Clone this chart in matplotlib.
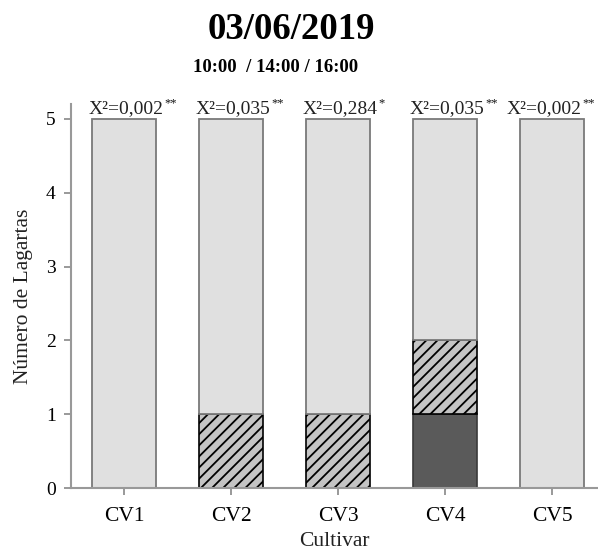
import matplotlib
matplotlib.use("Agg")
import matplotlib.pyplot as plt
import numpy as np

plt.rcParams['font.family'] = ['Liberation Serif', 'DejaVu Serif']
plt.rcParams['hatch.linewidth'] = 1.3

# Data
cultivars = ["CV1", "CV2", "CV3", "CV4", "CV5"]
n_dark = [0, 0, 0, 1, 0]        # 10:00
n_hatched = [0, 1, 1, 1, 0]     # 14:00
n_light = [5, 4, 4, 3, 5]       # 16:00
chi2_labels = ["X²=0,002", "X²=0,035", "X²=0,284", "X²=0,035", "X²=0,002"]
signif = ["**", "**", "*", "**", "**"]
yticks = [0, 1, 2, 3, 4, 5]

fig = plt.figure(figsize=(5.98, 5.54), dpi=100)
ax = fig.add_axes([0.1187, 0.1191, 0.8813, 0.693])

x = np.arange(len(cultivars))
w = 0.6
dark = np.array(n_dark)
hat = np.array(n_hatched)
light = np.array(n_light)

ax.bar(x, dark, w, color="#5a5a5a", edgecolor="#3a3a3a", linewidth=1.2)
ax.bar(x, hat, w, bottom=dark, color="#c4c4c4", edgecolor="black",
       hatch="///", linewidth=1.2)
ax.bar(x, light, w, bottom=dark + hat, color="#e0e0e0", edgecolor="#7a7a7a",
       linewidth=1.3)

# chi-square labels above each bar; the last one is nudged left to stay inside
totals = dark + hat + light
for i, (xi, tot, lab, sig) in enumerate(zip(x, totals, chi2_labels, signif)):
    xpos = xi - 0.07 if i == len(x) - 1 else xi + 0.02
    t = ax.text(xpos, tot + 0.03, lab, ha="center", va="bottom",
                fontsize=14, color="#222222")
    ax.annotate(sig, xy=(1, 1), xycoords=t, xytext=(0.3, 2),
                textcoords="offset points", ha="left", va="top",
                fontsize=9, color="#111111")

ax.set_xlim(-0.495, 4.43)
ax.set_ylim(0, 5.2)
ax.set_yticks(yticks)
ax.set_xticks(x)
ax.set_xticklabels(cultivars, fontsize=15.5)
ax.tick_params(axis="y", labelsize=14, length=5, width=1.2, color="#888888",
               pad=6)
ax.tick_params(axis="x", length=5, width=1.2, color="#888888", pad=9)

for s in ["top", "right"]:
    ax.spines[s].set_visible(False)
for s in ["left", "bottom"]:
    ax.spines[s].set_color("#999999")
    ax.spines[s].set_linewidth(1.5)

ax.set_xlabel("Cultivar", fontsize=15.5, labelpad=4, color="#222222")
ax.set_ylabel("Número de Lagartas", fontsize=15.5, labelpad=9, color="#222222")

fig.text(0.488, 0.947, "03/06/2019", ha="center", va="center",
         fontsize=26.5, fontweight="bold")
fig.text(0.46, 0.879, "10:00  / 14:00 / 16:00", ha="center", va="center",
         fontsize=13.5, fontweight="bold")

fig.savefig("out.png", dpi=100)
